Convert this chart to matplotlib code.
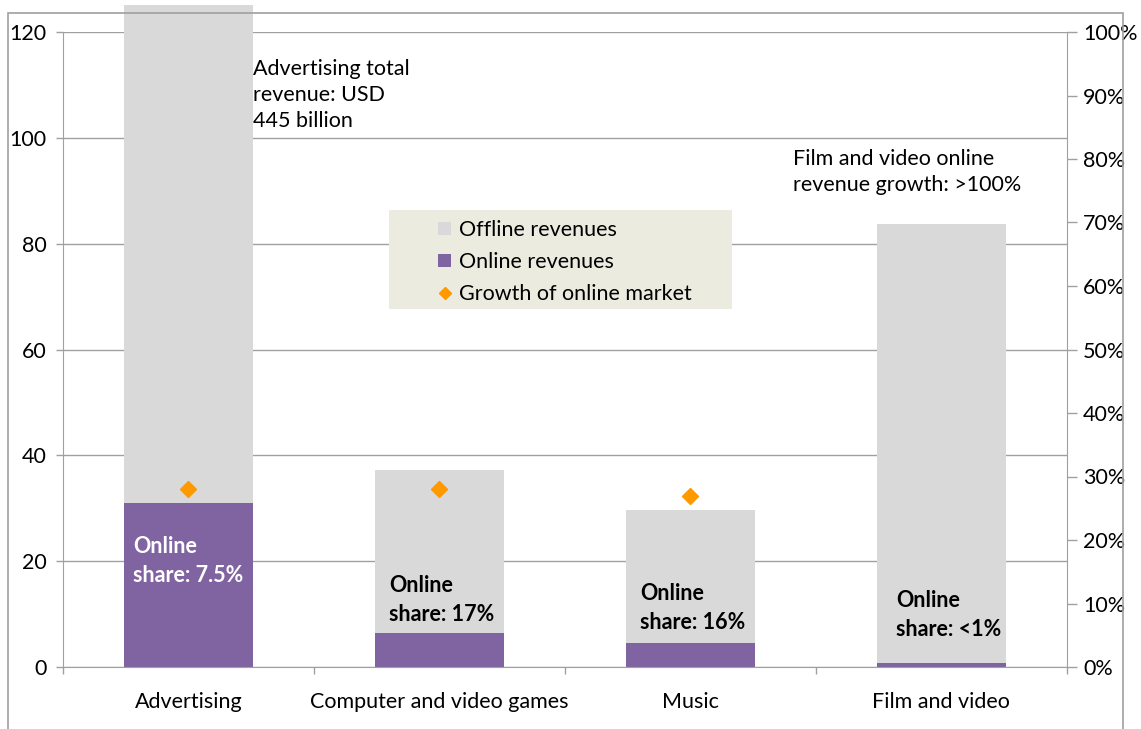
import numpy as np
import matplotlib
matplotlib.use("Agg")
import matplotlib.pyplot as plt
from matplotlib.patches import Rectangle
from matplotlib.lines import Line2D
from matplotlib.ticker import PercentFormatter, FixedLocator

plt.rcParams["font.family"] = ["Lato", "DejaVu Sans"]

# Revenue, USD billion
categories = ["Advertising", "Computer and video games", "Music", "Film and video"]
online = [31.0, 6.5, 4.5, 0.8]
total = [445.0, 37.2, 29.7, 83.7]
offline = [t - o for t, o in zip(total, online)]
# Growth of online market (right axis, share of 1); film and video is >100%
growth = [0.28, 0.28, 0.27, np.nan]
share_labels = ["Online\nshare: 7.5%", "Online\nshare: 17%", "Online\nshare: 16%", "Online\nshare: <1%"]

W, H = 1141, 729
fig = plt.figure(figsize=(W / 100, H / 100), dpi=100)
ax = fig.add_axes([63 / W, 1 - 667 / H, (1066.5 - 63) / W, (667 - 32) / H])
ax2 = ax.twinx()

grey = "#A0A0A0"
fs = 15.5
x = np.arange(len(categories))
bw = 0.514
b_on = ax.bar(x, online, bw, color="#8064A2", label="Online revenues", zorder=2)
b_off = ax.bar(x, offline, bw, bottom=online, color="#D9D9D9", label="Offline revenues", zorder=2)

# Advertising bar runs above the plot area, cut off near the top of the picture
clip = Rectangle((0, 0), 1, 1 - 5 / H, transform=fig.transFigure)
for p in list(b_on) + list(b_off):
    p.set_clip_path(clip)

ax.set_xlim(-0.5, len(categories) - 0.5)
ax.set_ylim(0, 120)
ax.set_yticks(np.arange(0, 121, 20))
ax.yaxis.grid(True, color=grey, linewidth=1)
ax.set_axisbelow(True)
ax.set_xticks(x)
ax.set_xticklabels(categories)
ax.xaxis.set_minor_locator(FixedLocator(np.arange(-0.5, len(categories), 1.0)))
ax.tick_params(axis="x", which="major", length=0, pad=18, labelsize=fs)
ax.tick_params(axis="x", which="minor", length=5, color=grey, width=1)
ax.tick_params(axis="y", length=5, color=grey, width=1, labelsize=fs, pad=7)

for a in (ax, ax2):
    a.spines["top"].set_visible(False)
    for s in ("left", "right", "bottom"):
        a.spines[s].set_color(grey)
ax.spines["right"].set_visible(False)

ax2.plot(x, growth, linestyle="None", marker="D", markersize=8.5,
         color="#FF9900", label="Growth of online market", zorder=3)
ax2.set_ylim(0, 1)
ax2.set_yticks(np.arange(0, 1.01, 0.1))
ax2.yaxis.set_major_formatter(PercentFormatter(1.0, decimals=0))
ax2.tick_params(axis="y", length=7, color=grey, width=1, labelsize=fs, pad=5)
ax2.spines["left"].set_visible(False)
ax2.spines["bottom"].set_visible(False)

# Online share labels inside the bars
share_pos = [(-0.22, 20.1), (0.80, 12.66), (1.80, 11.15), (2.82, 9.83)]
for i, (lbl, (tx, ty)) in enumerate(zip(share_labels, share_pos)):
    ax.text(tx, ty, lbl, ha="left", va="center", fontsize=fs, fontweight="bold",
            color="white" if i == 0 else "black", linespacing=1.47, zorder=4)

ax.text(0.258, 108.1, "Advertising total\nrevenue: USD\n445 billion",
        ha="left", va="center", fontsize=fs, linespacing=1.4, zorder=4)
ax.text(2.41, 93.5, "Film and video online\nrevenue growth: >100%",
        ha="left", va="center", fontsize=fs, linespacing=1.4, zorder=4)

# Legend on a beige panel
fig.add_artist(Rectangle((389 / W, 1 - 309 / H), (732 - 389) / W, (309 - 210) / H,
                         transform=fig.transFigure, facecolor="#ECEBE0",
                         edgecolor="none", zorder=5))
diamond = Line2D([], [], linestyle="None", marker="D", markersize=6.5, color="#FF9900")
leg = fig.legend(handles=[b_off, b_on, diamond],
                 labels=["Offline revenues", "Online revenues", "Growth of online market"],
                 loc="upper left", bbox_to_anchor=(421 / W, 1 - 203 / H),
                 frameon=False, fontsize=fs, handlelength=0.6, handleheight=0.6,
                 handletextpad=0.35, labelspacing=0.55, borderpad=0.3)
leg.set_zorder(6)

# Outer chart frame
fig.add_artist(Rectangle((8 / W, -0.05), (1123 - 8) / W, 1 - 13 / H + 0.05,
                         transform=fig.transFigure, facecolor="none",
                         edgecolor=grey, linewidth=1.2, zorder=7))

fig.savefig("out.png", dpi=100)
